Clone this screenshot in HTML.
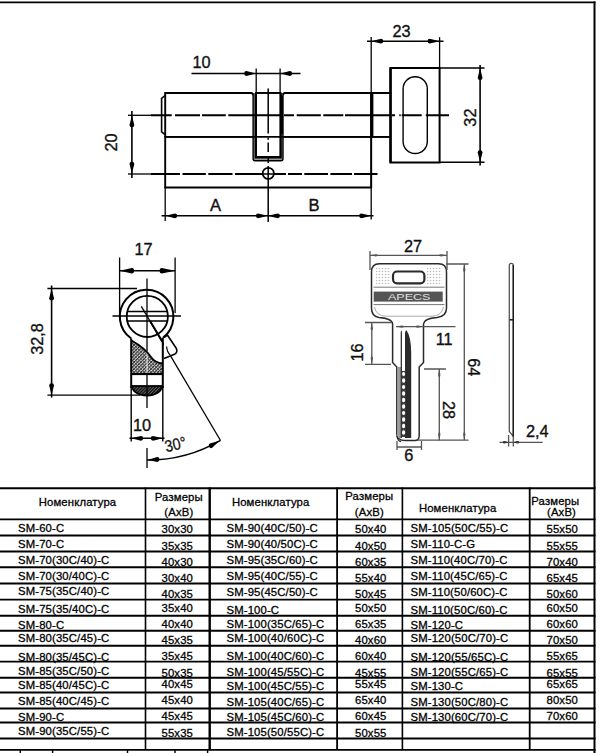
<!DOCTYPE html><html><head><meta charset="utf-8"><style>html,body{margin:0;padding:0;background:#fff;width:600px;height:753px;overflow:hidden}svg{display:block}text{font-family:"Liberation Sans", sans-serif}</style></head><body>
<svg width="600" height="753" viewBox="0 0 600 753" font-family='"Liberation Sans", sans-serif'>
<line x1="0" y1="2.3" x2="595.5" y2="2.3" stroke="#000" stroke-width="1.8"/>
<line x1="594.5" y1="1.4" x2="594.5" y2="753" stroke="#000" stroke-width="2"/>
<g stroke="#000" fill="none" stroke-linecap="butt">
<path d="M164.5 93 H250.8 Q253.1 93 253.1 95.3 M283 95.3 Q283 93 285.3 93 H390.5 M255.8 93 H280.6" stroke-width="1.9"/>
<path d="M164.5 136.9 H390.5" stroke-width="1.9"/>
<path d="M164.5 187.5 H371.2" stroke-width="1.9"/>
<path d="M165.2 92.3 V188" stroke-width="1.9"/>
<path d="M165.2 188 V221" stroke-width="1.3"/>
<path d="M165 95.5 L161.6 98.3 V131.8 L165 134.5" stroke-width="1.6"/>
<path d="M371.2 37 V219.5" stroke-width="1.3"/>
<path d="M371.2 92.3 V188" stroke-width="1.9"/>
<path d="M371.8 93 V137" stroke-width="3.2"/>
<path d="M390.4 68 H439.6 V162.4 H390.4 Z" stroke-width="2"/>
<path d="M390.6 68 V162.4" stroke-width="2.4"/>
<path d="M403.1 88.9 A12.1 12.1 0 0 1 427.3 88.9 V141.4 A12.1 12.1 0 0 1 403.1 141.4 Z" stroke-width="1.4"/>
<path d="M253.1 93.2 V158.8 Q253.1 160.8 255.1 160.8 H281 Q283 160.8 283 158.8 V93.2" stroke-width="1.4" fill="#999"/>
<path d="M255.8 93.2 V157.2 H280.6 V93.2" stroke-width="2.4" fill="#fff"/>
<path d="M281.6 95.5 V134" stroke-width="2.6"/>
<path d="M255 93 H281.5" stroke-width="1.9"/>
<path d="M164.5 136.9 H390.5" stroke-width="1.9"/>
<path d="M256.2 68.5 V93" stroke-width="1.3"/>
<path d="M280.1 68.5 V93" stroke-width="1.3"/>
</g>
<g stroke="#000" fill="none">
<path d="M128 115.3 H151" stroke-width="1.3"/>
<path d="M151 115.3 H171.7 M175 115.3 H200 M202 115.3 H225.8 M228.3 115.3 H252.5 M252.5 115.3 H283 M284 115.3 H294 M296.7 115.3 H320.8 M323.3 115.3 H343.3 M345 115.3 H390 M391.7 115.3 H395 M399.3 115.3 H400.7 M401.7 115.3 H421.7 M425.8 115.3 H449" stroke-width="1.9"/>
<path d="M128 174 H151" stroke-width="1.3"/>
<path d="M151 174 H180 M182.5 174 H205.8 M208.3 174 H232.5 M235 174 H262.5 M274 174 H286 M288 174 H302 M304.3 174 H328 M330.4 174 H352 M354 174 H377.5" stroke-width="1.9"/>
<path d="M268.2 88.5 V133.5 M268.2 137.8 V139.8 M268.2 142.5 V152 M268.2 158 V163 M268.2 166 V222" stroke-width="1.5"/>
<circle cx="268.3" cy="173.4" r="5.6" stroke-width="1.7"/>
<path d="M262.5 174 H274" stroke-width="1.5"/>
<path d="M191.5 73.5 H300.5" stroke-width="1.5"/>
<path d="M131.9 111 V178" stroke-width="1.6"/>
<path d="M161.5 215.8 H373.5" stroke-width="1.6"/>
<path d="M367 41.2 H443.5" stroke-width="1.6"/>
<path d="M439.6 37.2 V68" stroke-width="1.3"/>
<path d="M439.6 68 H484.5 M439.6 162.2 H484.5" stroke-width="1.5"/>
<path d="M480.1 65 V165.5" stroke-width="1.6"/>
</g>
<path d="M0 0 L-9.8 -2.4 Q-12 -2.4 -12 0 Q-12 2.4 -9.8 2.4 Z" transform="translate(256.2 73.5) rotate(0)" fill="#000"/>
<path d="M0 0 L-9.8 -2.4 Q-12 -2.4 -12 0 Q-12 2.4 -9.8 2.4 Z" transform="translate(280.1 73.5) rotate(180)" fill="#000"/>
<path d="M0 0 L-9.8 -2.4 Q-12 -2.4 -12 0 Q-12 2.4 -9.8 2.4 Z" transform="translate(131.9 115.2) rotate(-90)" fill="#000"/>
<path d="M0 0 L-9.8 -2.4 Q-12 -2.4 -12 0 Q-12 2.4 -9.8 2.4 Z" transform="translate(131.9 173.8) rotate(90)" fill="#000"/>
<path d="M0 0 L-9.8 -2.4 Q-12 -2.4 -12 0 Q-12 2.4 -9.8 2.4 Z" transform="translate(165.2 215.8) rotate(180)" fill="#000"/>
<path d="M0 0 L-9.8 -2.4 Q-12 -2.4 -12 0 Q-12 2.4 -9.8 2.4 Z" transform="translate(267.9 215.8) rotate(0)" fill="#000"/>
<path d="M0 0 L-9.8 -2.4 Q-12 -2.4 -12 0 Q-12 2.4 -9.8 2.4 Z" transform="translate(267.9 215.8) rotate(180)" fill="#000"/>
<path d="M0 0 L-9.8 -2.4 Q-12 -2.4 -12 0 Q-12 2.4 -9.8 2.4 Z" transform="translate(371.2 215.8) rotate(0)" fill="#000"/>
<path d="M0 0 L-9.8 -2.4 Q-12 -2.4 -12 0 Q-12 2.4 -9.8 2.4 Z" transform="translate(371.2 41.2) rotate(180)" fill="#000"/>
<path d="M0 0 L-9.8 -2.4 Q-12 -2.4 -12 0 Q-12 2.4 -9.8 2.4 Z" transform="translate(439.6 41.2) rotate(0)" fill="#000"/>
<path d="M0 0 L-9.8 -2.4 Q-12 -2.4 -12 0 Q-12 2.4 -9.8 2.4 Z" transform="translate(480.1 68) rotate(-90)" fill="#000"/>
<path d="M0 0 L-9.8 -2.4 Q-12 -2.4 -12 0 Q-12 2.4 -9.8 2.4 Z" transform="translate(480.1 162.2) rotate(90)" fill="#000"/>
<text x="201.6" y="67.5" font-size="16.3" text-anchor="middle" fill="#111" stroke="#111" stroke-width="0.35">10</text>
<text x="401.6" y="37" font-size="16.3" text-anchor="middle" fill="#111" stroke="#111" stroke-width="0.35">23</text>
<text x="215.5" y="211" font-size="16.6" text-anchor="middle" fill="#111" stroke="#111" stroke-width="0.35">A</text>
<text x="314" y="211.2" font-size="16.6" text-anchor="middle" fill="#111" stroke="#111" stroke-width="0.35">B</text>
<text x="0" y="0" font-size="16.3" text-anchor="middle" fill="#111" stroke="#111" stroke-width="0.35" transform="translate(117.3 142.5) rotate(-90)">20</text>
<text x="0" y="0" font-size="16.3" text-anchor="middle" fill="#111" stroke="#111" stroke-width="0.35" transform="translate(475.9 117.6) rotate(-90)">32</text>
<defs><pattern id="hat" width="2.4" height="2.4" patternUnits="userSpaceOnUse" patternTransform="rotate(45)"><rect width="2.4" height="2.4" fill="#ddd"/><rect width="1.0" height="2.4" fill="#222"/><rect width="2.4" height="0.7" fill="#444"/></pattern><pattern id="hat2" width="2.2" height="2.2" patternUnits="userSpaceOnUse" patternTransform="rotate(45)"><rect width="2.2" height="2.2" fill="#666"/><rect width="1.3" height="2.2" fill="#111"/></pattern></defs>
<path d="M131.5 340.5 Q145 348 151 357 Q155 363 162.5 363.5 V374 H131.5 Z" fill="url(#hat)"/>
<path d="M147 351 V373" stroke="#eee" stroke-width="1"/>
<path d="M132 386 A15 9.6 0 0 0 162 386 Z" fill="url(#hat2)"/>
<g stroke="#000" fill="none">
<path d="M131.2 338.5 A26.8 26.8 0 1 1 163.2 337.6" stroke-width="2"/>
<circle cx="147.3" cy="316.4" r="20.6" stroke-width="1.8"/>
<path d="M127.5 311.5 H167 M127.5 320.9 H167" stroke-width="1.5"/>
<path d="M112.5 316 H181" stroke-width="1.3"/>
<path d="M147 278.5 V351 M147 373 V408" stroke-width="1.3"/>
<path d="M147 448 V468" stroke-width="1.3"/>
<path d="M131.2 338.5 V388 M162.8 337.6 V388" stroke-width="2"/>
<path d="M132 386 A15 9.6 0 0 0 162 386" stroke-width="1.8"/>
<path d="M131.2 374 H162.8" stroke-width="2.2"/>
<path d="M131.2 386 H162.8" stroke-width="1.8"/>
<path d="M131.5 340.5 Q145 348 151 357 Q155 363 162.5 363.5" stroke-width="1.8"/>
<path d="M141.3 306.4 L220.5 440.5" stroke-width="1.3"/>
<path d="M150.2 321.3 L162.3 341.5" stroke-width="2"/>
<path d="M164 337.5 L167.5 335.2 L176.3 348.4 Q178 352.5 174.5 354.2 L164 358.5" stroke-width="1.6" fill="#fff"/>
<path d="M166.6 346.5 Q167 352 170.2 355" stroke-width="1.2"/>
<path d="M119.6 257.5 V313 M175.1 257.5 V313" stroke-width="1.3"/>
<path d="M119.6 270.7 H175.1" stroke-width="1.5"/>
<path d="M47.4 288.5 H137 M47.4 395.2 H140" stroke-width="1.3"/>
<path d="M51.6 285.5 V397.5" stroke-width="1.6"/>
<path d="M131.2 386 V441.5 M162.8 386 V441.5" stroke-width="1.4"/>
<path d="M129.5 438.3 H164.5" stroke-width="1.5"/>
<path d="M147 460 A144 144 0 0 0 220.5 440.3" stroke-width="1.4"/>
</g>
<path d="M0 0 L-12.3 -2.75 Q-14.5 -2.75 -14.5 0 Q-14.5 2.75 -12.3 2.75 Z" transform="translate(119.6 270.7) rotate(180)" fill="#000"/>
<path d="M0 0 L-13.3 -2.75 Q-15.5 -2.75 -15.5 0 Q-15.5 2.75 -13.3 2.75 Z" transform="translate(175.1 270.7) rotate(0)" fill="#000"/>
<path d="M0 0 L-9.8 -2.4 Q-12 -2.4 -12 0 Q-12 2.4 -9.8 2.4 Z" transform="translate(51.6 288.5) rotate(-90)" fill="#000"/>
<path d="M0 0 L-9.8 -2.4 Q-12 -2.4 -12 0 Q-12 2.4 -9.8 2.4 Z" transform="translate(51.6 395.2) rotate(90)" fill="#000"/>
<path d="M0 0 L-9.8 -2.4 Q-12 -2.4 -12 0 Q-12 2.4 -9.8 2.4 Z" transform="translate(131.2 438.3) rotate(180)" fill="#000"/>
<path d="M0 0 L-9.8 -2.4 Q-12 -2.4 -12 0 Q-12 2.4 -9.8 2.4 Z" transform="translate(162.8 438.3) rotate(0)" fill="#000"/>
<path d="M0 0 L-9.8 -2.4 Q-12 -2.4 -12 0 Q-12 2.4 -9.8 2.4 Z" transform="translate(147.5 460) rotate(177)" fill="#000"/>
<path d="M0 0 L-9.8 -2.4 Q-12 -2.4 -12 0 Q-12 2.4 -9.8 2.4 Z" transform="translate(219.5 440.8) rotate(-30)" fill="#000"/>
<text x="143.5" y="255" font-size="16.3" text-anchor="middle" fill="#111" stroke="#111" stroke-width="0.35">17</text>
<text x="0" y="0" font-size="16.3" text-anchor="middle" fill="#111" stroke="#111" stroke-width="0.35" transform="translate(43.1 339) rotate(-90)">32,8</text>
<text x="142" y="431" font-size="16.3" text-anchor="middle" fill="#111" stroke="#111" stroke-width="0.35">10</text>
<text x="0" y="0" font-size="16.5" text-anchor="middle" fill="#111" stroke="#111" stroke-width="0.3" transform="translate(176.8 449.8) rotate(-13) scale(0.86 1)">30°</text>
<defs><pattern id="dots" width="3" height="3" patternUnits="userSpaceOnUse"><rect width="3" height="3" fill="#fff"/><circle cx="1.5" cy="1.5" r="0.8" fill="#bbb"/></pattern></defs>
<path d="M379.5 263.7 H438.5 Q446.5 263.7 446.5 271.7 V308 Q446.5 316.5 437 317.5 Q424 318.5 423.5 324 V362.5 L419.2 367 V436 Q419 440.5 415 440.5 L405 440.5 Q397 440.5 396.8 434 V367 L392.6 362.5 V324 Q392.2 318.5 379 317.5 Q371.5 316.5 371.5 308 V271.7 Q371.5 263.7 379.5 263.7 Z" fill="#fff" stroke="#2a2a2a" stroke-width="1.5"/>
<path d="M374.5 307 Q376 315.8 386 316.2 H432 Q442 315.8 443.5 307" stroke="#aaa" stroke-width="1" fill="none"/>
<path d="M376 268 H390 V285 H376 Z M427 268 H442 V285 H427 Z" fill="url(#dots)"/>
<rect x="393" y="271.5" width="31.4" height="11.8" rx="4" fill="#fff" stroke="#2a2a2a" stroke-width="2.2"/>
<path d="M373.5 287.2 H444.5 M373.5 304.6 H444.5" stroke="#777" stroke-width="1"/>
<rect x="373.7" y="291.6" width="69" height="10" fill="#555"/>
<text x="388" y="300.2" font-size="9.6" fill="#e0e0e0" textLength="42.4" lengthAdjust="spacingAndGlyphs" font-family='"Liberation Sans", sans-serif'>APECS</text>
<rect x="397" y="367" width="4" height="71" fill="#9a9a9a"/>
<path d="M400.7 438 V333 Q400.7 330.5 401.3 330.5 Q401.9 330.5 401.9 333 V438 Z" fill="#1e1e1e"/>
<path d="M405 438 V333 Q405.5 329.8 406.6 330.5 Q410.8 336 411.2 352 V438 Z" fill="#2a2a2a"/>
<rect x="401.6" y="371" width="4" height="66" fill="#3a3a3a"/>
<ellipse cx="403.6" cy="374" rx="1.6" ry="2.1" fill="#fff"/>
<ellipse cx="403.6" cy="380.5" rx="1.6" ry="2.3" fill="#fff"/>
<ellipse cx="403.6" cy="387" rx="1.6" ry="2.1" fill="#fff"/>
<ellipse cx="403.6" cy="393.5" rx="1.6" ry="2.3" fill="#fff"/>
<ellipse cx="403.6" cy="400" rx="1.6" ry="2.2" fill="#fff"/>
<ellipse cx="403.6" cy="406.5" rx="1.6" ry="2.3" fill="#fff"/>
<ellipse cx="403.6" cy="413" rx="1.6" ry="2.1" fill="#fff"/>
<ellipse cx="403.6" cy="419.5" rx="1.6" ry="2.3" fill="#fff"/>
<ellipse cx="403.6" cy="426" rx="1.6" ry="2.2" fill="#fff"/>
<ellipse cx="403.6" cy="432.5" rx="1.6" ry="2.2" fill="#fff"/>
<path d="M397 436 Q397.5 441 401 441.5" stroke="#222" stroke-width="1.3" fill="none"/>
<g stroke="#555" fill="none" stroke-width="1.3">
<path d="M370 251 V270 M447 251 V270"/>
<path d="M370 255.3 H447"/>
<path d="M446 264 H468.5 M417 440.2 H468.5 M464.3 264 V440.2"/>
<path d="M365 322.5 H391 M365 364.3 H391 M371.8 322.5 V364.3"/>
<path d="M396 326.6 H455.5"/>
<path d="M424 369 H446 M439.3 369 V440.2"/>
<path d="M397 441 V450 M421.5 441 V450 M397 447 H421.5"/>
<path d="M499.5 442.3 H542.7 M508.6 435 V446.5 M513.3 435 V446.5"/>
</g>
<path d="M509.3 431.5 V265.5 Q509.3 263.4 511.3 263.4 Q513.3 263.4 513.3 265.5 V436.5 Z" fill="#fff" stroke="#555" stroke-width="1.3"/>
<path d="M513.3 265 V436.5" stroke="#1a1a1a" stroke-width="1.4"/>
<path d="M509.3 319.8 H513.3" stroke="#2a2a2a" stroke-width="1.6"/>
<path d="M0 0 L-5.8 -1.1 Q-8 -1.1 -8 0 Q-8 1.1 -5.8 1.1 Z" transform="translate(370 255.3) rotate(180)" fill="#555"/>
<path d="M0 0 L-5.8 -1.1 Q-8 -1.1 -8 0 Q-8 1.1 -5.8 1.1 Z" transform="translate(447 255.3) rotate(0)" fill="#555"/>
<path d="M0 0 L-5.8 -1.1 Q-8 -1.1 -8 0 Q-8 1.1 -5.8 1.1 Z" transform="translate(464.3 264) rotate(-90)" fill="#555"/>
<path d="M0 0 L-5.8 -1.1 Q-8 -1.1 -8 0 Q-8 1.1 -5.8 1.1 Z" transform="translate(464.3 440.2) rotate(90)" fill="#555"/>
<path d="M0 0 L-5.8 -1.1 Q-8 -1.1 -8 0 Q-8 1.1 -5.8 1.1 Z" transform="translate(371.8 322.5) rotate(-90)" fill="#555"/>
<path d="M0 0 L-5.8 -1.1 Q-8 -1.1 -8 0 Q-8 1.1 -5.8 1.1 Z" transform="translate(371.8 364.3) rotate(90)" fill="#555"/>
<path d="M0 0 L-5.8 -1.1 Q-8 -1.1 -8 0 Q-8 1.1 -5.8 1.1 Z" transform="translate(396 326.6) rotate(180)" fill="#555"/>
<path d="M0 0 L-5.8 -1.1 Q-8 -1.1 -8 0 Q-8 1.1 -5.8 1.1 Z" transform="translate(423.5 326.6) rotate(0)" fill="#555"/>
<path d="M0 0 L-5.8 -1.1 Q-8 -1.1 -8 0 Q-8 1.1 -5.8 1.1 Z" transform="translate(439.3 369) rotate(-90)" fill="#555"/>
<path d="M0 0 L-5.8 -1.1 Q-8 -1.1 -8 0 Q-8 1.1 -5.8 1.1 Z" transform="translate(439.3 440.2) rotate(90)" fill="#555"/>
<path d="M0 0 L-3.8 -1.2 Q-6 -1.2 -6 0 Q-6 1.2 -3.8 1.2 Z" transform="translate(508.6 442.3) rotate(0)" fill="#333"/>
<path d="M0 0 L-3.8 -1.2 Q-6 -1.2 -6 0 Q-6 1.2 -3.8 1.2 Z" transform="translate(513.3 442.3) rotate(180)" fill="#333"/>
<text x="413" y="252" font-size="16.3" text-anchor="middle" fill="#111" stroke="#111" stroke-width="0.35">27</text>
<text x="444.2" y="344.5" font-size="16.3" text-anchor="middle" fill="#111" stroke="#111" stroke-width="0.35">11</text>
<text x="408.8" y="461" font-size="16.3" text-anchor="middle" fill="#111" stroke="#111" stroke-width="0.35">6</text>
<text x="537.2" y="436.8" font-size="16.3" text-anchor="middle" fill="#111" stroke="#111" stroke-width="0.35">2,4</text>
<text x="0" y="0" font-size="16.3" text-anchor="middle" fill="#111" stroke="#111" stroke-width="0.35" transform="translate(363.3 352.5) rotate(-90)">16</text>
<text x="0" y="0" font-size="16.3" text-anchor="middle" fill="#111" stroke="#111" stroke-width="0.35" transform="translate(468.4 367.3) rotate(90)">64</text>
<text x="0" y="0" font-size="16.3" text-anchor="middle" fill="#111" stroke="#111" stroke-width="0.35" transform="translate(443 410) rotate(90)">28</text>
<g fill="#000" stroke="#000" stroke-width="0.3" letter-spacing="0.15" font-family='"Liberation Sans", sans-serif'>
<text x="77.5" y="505.5" font-size="11.3" text-anchor="middle">Номенклатура</text>
<text x="270.7" y="506" font-size="11.3" text-anchor="middle">Номенклатура</text>
<text x="457.7" y="512" font-size="11.3" text-anchor="middle">Номенклатура</text>
<text x="178.8" y="500.7" font-size="11.3" text-anchor="middle">Размеры</text>
<text x="178.8" y="515.5" font-size="11.3" text-anchor="middle">(AxB)</text>
<text x="369.3" y="500.4" font-size="11.3" text-anchor="middle">Размеры</text>
<text x="369.3" y="515.5" font-size="11.3" text-anchor="middle">(AxB)</text>
<text x="555.3" y="505" font-size="11.3" text-anchor="middle">Размеры</text>
<text x="561.5" y="515.5" font-size="11.3" text-anchor="middle">(AxB)</text>
<text x="18" y="531.7" font-size="11.3" >SM-60-C</text>
<text x="18" y="547.5" font-size="11.3" >SM-70-C</text>
<text x="18" y="563.8" font-size="11.3" >SM-70(30C/40)-C</text>
<text x="18" y="579.7" font-size="11.3" >SM-70(30/40C)-C</text>
<text x="18" y="595.3" font-size="11.3" >SM-75(35C/40)-C</text>
<text x="18" y="612.8" font-size="11.3" >SM-75(35/40C)-C</text>
<text x="18" y="628.7" font-size="11.3" >SM-80-C</text>
<text x="18" y="642.3" font-size="11.3" >SM-80(35C/45)-C</text>
<text x="18" y="660.7" font-size="11.3" >SM-80(35/45C)-C</text>
<text x="18" y="674.8" font-size="11.3" >SM-85(35C/50)-C</text>
<text x="18" y="689.3" font-size="11.3" >SM-85(40/45C)-C</text>
<text x="18" y="704.8" font-size="11.3" >SM-85(40C/45)-C</text>
<text x="18" y="720.7" font-size="11.3" >SM-90-C</text>
<text x="18" y="734.8" font-size="11.3" >SM-90(35C/55)-C</text>
<text x="161.5" y="533.3" font-size="11.3" >30x30</text>
<text x="161.5" y="549.7" font-size="11.3" >35x35</text>
<text x="161.5" y="565.7" font-size="11.3" >40x30</text>
<text x="161.5" y="581.7" font-size="11.3" >30x40</text>
<text x="161.5" y="598.4" font-size="11.3" >40x35</text>
<text x="161.5" y="611.7" font-size="11.3" >35x40</text>
<text x="161.5" y="627.5" font-size="11.3" >40x40</text>
<text x="161.5" y="643.7" font-size="11.3" >45x35</text>
<text x="161.5" y="660.2" font-size="11.3" >35x45</text>
<text x="161.5" y="676.6" font-size="11.3" >50x35</text>
<text x="161.5" y="687.7" font-size="11.3" >40x45</text>
<text x="161.5" y="704.2" font-size="11.3" >45x40</text>
<text x="161.5" y="720.2" font-size="11.3" >45x45</text>
<text x="161.5" y="736.7" font-size="11.3" >55x35</text>
<text x="226.5" y="532.4" font-size="11.3" >SM-90(40C/50)-C</text>
<text x="226.5" y="548" font-size="11.3" >SM-90(40/50C)-C</text>
<text x="226.5" y="564" font-size="11.3" >SM-95(35C/60)-C</text>
<text x="226.5" y="580" font-size="11.3" >SM-95(40C/55)-C</text>
<text x="226.5" y="595.6" font-size="11.3" >SM-95(45C/50)-C</text>
<text x="226.5" y="613.6" font-size="11.3" >SM-100-C</text>
<text x="226.5" y="628" font-size="11.3" >SM-100(35C/65)-C</text>
<text x="226.5" y="642.4" font-size="11.3" >SM-100(40/60C)-C</text>
<text x="226.5" y="660.4" font-size="11.3" >SM-100(40C/60)-C</text>
<text x="226.5" y="675.6" font-size="11.3" >SM-100(45/55C)-C</text>
<text x="226.5" y="690" font-size="11.3" >SM-100(45C/55)-C</text>
<text x="226.5" y="705.6" font-size="11.3" >SM-105(40C/65)-C</text>
<text x="226.5" y="721" font-size="11.3" >SM-105(45C/60)-C</text>
<text x="226.5" y="735.6" font-size="11.3" >SM-105(50/55C)-C</text>
<text x="355" y="533.3" font-size="11.3" >50x40</text>
<text x="355" y="549.7" font-size="11.3" >40x50</text>
<text x="355" y="565.7" font-size="11.3" >60x35</text>
<text x="355" y="581.7" font-size="11.3" >55x40</text>
<text x="355" y="598.4" font-size="11.3" >50x45</text>
<text x="355" y="611.7" font-size="11.3" >50x50</text>
<text x="355" y="627.5" font-size="11.3" >65x35</text>
<text x="355" y="643.7" font-size="11.3" >40x60</text>
<text x="355" y="660.2" font-size="11.3" >60x40</text>
<text x="355" y="676.6" font-size="11.3" >45x55</text>
<text x="355" y="687.7" font-size="11.3" >55x45</text>
<text x="355" y="704.2" font-size="11.3" >65x40</text>
<text x="355" y="720.2" font-size="11.3" >60x45</text>
<text x="355" y="736.7" font-size="11.3" >50x55</text>
<text x="410.5" y="532.4" font-size="11.3" >SM-105(50C/55)-C</text>
<text x="410.5" y="548" font-size="11.3" >SM-110-C-G</text>
<text x="410.5" y="564" font-size="11.3" >SM-110(40C/70)-C</text>
<text x="410.5" y="580" font-size="11.3" >SM-110(45C/65)-C</text>
<text x="410.5" y="595.6" font-size="11.3" >SM-110(50/60C)-C</text>
<text x="410.5" y="613.6" font-size="11.3" >SM-110(50C/60)-C</text>
<text x="410.5" y="629.4" font-size="11.3" >SM-120-C</text>
<text x="410.5" y="642.4" font-size="11.3" >SM-120(50C/70)-C</text>
<text x="410.5" y="661" font-size="11.3" >SM-120(55/65C)-C</text>
<text x="410.5" y="675.6" font-size="11.3" >SM-120(55C/65)-C</text>
<text x="410.5" y="690" font-size="11.3" >SM-130-C</text>
<text x="410.5" y="705.6" font-size="11.3" >SM-130(50C/80)-C</text>
<text x="410.5" y="721" font-size="11.3" >SM-130(60C/70)-C</text>
<text x="546.5" y="533.3" font-size="11.3" >55x50</text>
<text x="546.5" y="549.7" font-size="11.3" >55x55</text>
<text x="546.5" y="565.7" font-size="11.3" >70x40</text>
<text x="546.5" y="581.7" font-size="11.3" >65x45</text>
<text x="546.5" y="598.4" font-size="11.3" >50x60</text>
<text x="546.5" y="611.7" font-size="11.3" >60x50</text>
<text x="546.5" y="627.5" font-size="11.3" >60x60</text>
<text x="546.5" y="643.7" font-size="11.3" >70x50</text>
<text x="546.5" y="660.2" font-size="11.3" >55x65</text>
<text x="546.5" y="676.6" font-size="11.3" >65x55</text>
<text x="546.5" y="687.7" font-size="11.3" >65x65</text>
<text x="546.5" y="704.2" font-size="11.3" >80x50</text>
<text x="546.5" y="720.2" font-size="11.3" >70x60</text>
</g>
<g stroke="#000" fill="none">
<line x1="0" y1="488.2" x2="595.5" y2="488.2" stroke-width="1.9"/>
<line x1="0" y1="519.4" x2="595.5" y2="519.4" stroke-width="1.9"/>
<line x1="0" y1="535.5" x2="595.5" y2="535.5" stroke-width="1.9"/>
<line x1="0" y1="551.5" x2="595.5" y2="551.5" stroke-width="1.9"/>
<line x1="0" y1="567.3" x2="595.5" y2="567.3" stroke-width="1.9"/>
<line x1="0" y1="583.5" x2="595.5" y2="583.5" stroke-width="1.9"/>
<line x1="0" y1="599.6" x2="595.5" y2="599.6" stroke-width="1.9"/>
<line x1="0" y1="615.8" x2="595.5" y2="615.8" stroke-width="1.9"/>
<line x1="0" y1="630.7" x2="595.5" y2="630.7" stroke-width="1.9"/>
<line x1="0" y1="645.7" x2="595.5" y2="645.7" stroke-width="1.9"/>
<line x1="0" y1="661.6" x2="595.5" y2="661.6" stroke-width="1.9"/>
<line x1="0" y1="677.7" x2="595.5" y2="677.7" stroke-width="1.9"/>
<line x1="0" y1="692.5" x2="595.5" y2="692.5" stroke-width="1.9"/>
<line x1="0" y1="708.5" x2="595.5" y2="708.5" stroke-width="1.9"/>
<line x1="0" y1="722.5" x2="595.5" y2="722.5" stroke-width="1.9"/>
<line x1="0" y1="738.5" x2="595.5" y2="738.5" stroke-width="1.9"/>
<line x1="0" y1="749.9" x2="595.5" y2="749.9" stroke-width="1.9"/>
<line x1="145.5" y1="487.5" x2="145.5" y2="750" stroke-width="1.6"/>
<line x1="209.7" y1="487.5" x2="209.7" y2="750" stroke-width="2.4"/>
<line x1="337.1" y1="487.5" x2="337.1" y2="750" stroke-width="1.8"/>
<line x1="402.4" y1="487.5" x2="402.4" y2="750" stroke-width="1.6"/>
<line x1="529.7" y1="487.5" x2="529.7" y2="750" stroke-width="1.8"/>
<line x1="20.3" y1="750" x2="20.3" y2="753" stroke-width="1.4"/>
<line x1="52.6" y1="750" x2="52.6" y2="753" stroke-width="1.4"/>
<line x1="127.5" y1="750" x2="127.5" y2="753" stroke-width="1.4"/>
<line x1="175" y1="750" x2="175" y2="753" stroke-width="1.4"/>
<line x1="207.6" y1="750" x2="207.6" y2="753" stroke-width="1.4"/>
</g>
</svg></body></html>
